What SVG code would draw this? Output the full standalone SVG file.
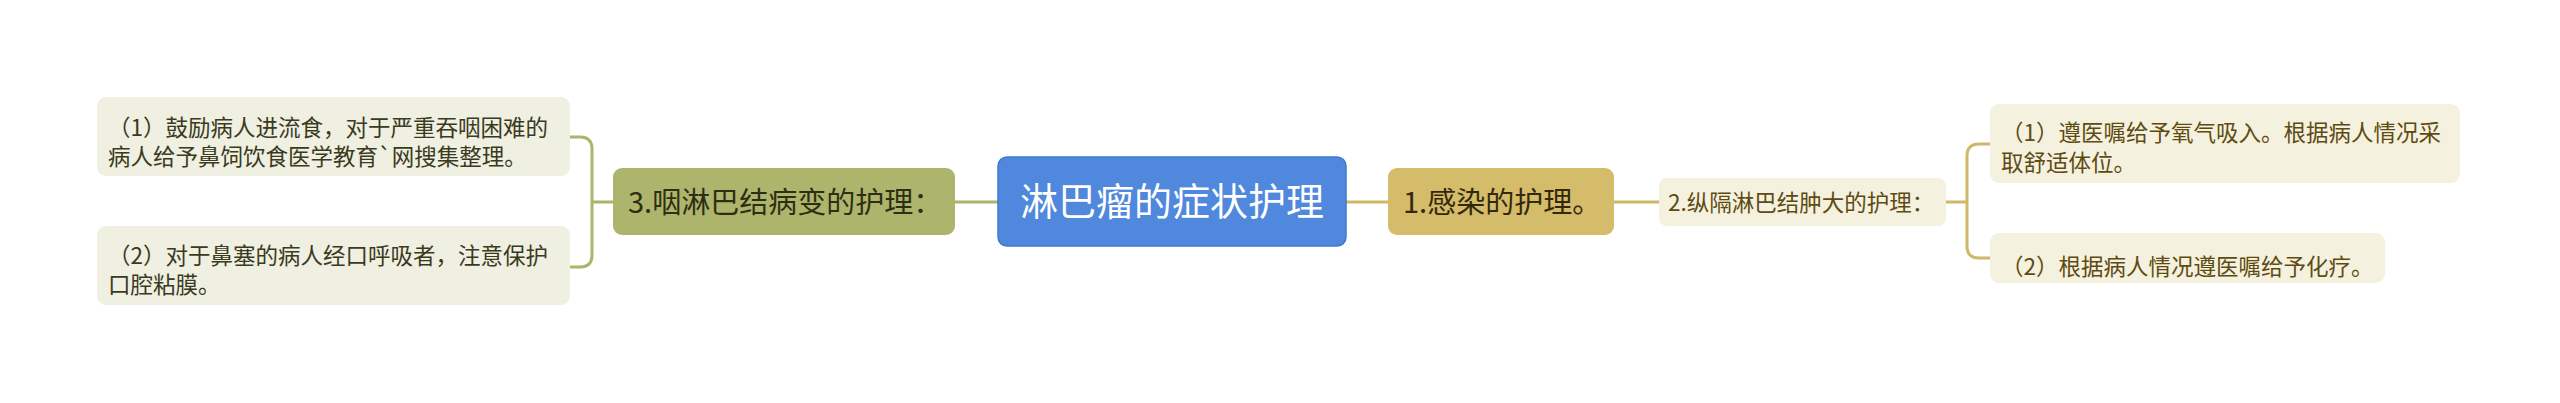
<svg xmlns="http://www.w3.org/2000/svg" width="2560" height="403" viewBox="0 0 2560 403">
<style>
text{font-family:"Noto Sans CJK SC","Noto Sans",sans-serif;}
.lc{fill:none;stroke:#aab46a;stroke-width:3;}
.rc{fill:none;stroke:#cfb868;stroke-width:3;}
.leafL rect{fill:#efefe2;}
.leafL text{fill:#3a3a1c;font-size:22.5px;}
.leafR rect{fill:#f5f1df;}
.leafR text{fill:#5e4b12;font-size:22.5px;}
.main text{font-size:29px;}
</style>
<rect width="2560" height="403" fill="#ffffff"/>
<g id="connectors">
<path class="lc" d="M955,202 L998,202"/>
<path class="lc" d="M613,202 L592,202"/>
<path class="lc" d="M570,137 L580,137 Q592,137 592,149 L592,255 Q592,267 580,267 L570,267"/>
<path class="rc" d="M1346,202 L1388,202"/>
<path class="rc" d="M1614,202 L1659,202"/>
<path class="rc" d="M1946,202 L1967,202"/>
<path class="rc" d="M1990,144 L1979,144 Q1967,144 1967,156 L1967,246 Q1967,258 1979,258 L1990,258"/>
</g>
<g id="center">
<rect x="998" y="157" width="348" height="89" rx="9" fill="#4f88dc" stroke="#4079cc" stroke-width="1.5"/>
<text x="1172" y="215" text-anchor="middle" font-size="38" fill="#ffffff">淋巴瘤的症状护理</text>
</g>
<g id="n3" class="main">
<rect x="613" y="168" width="342" height="67" rx="9" fill="#adb56c"/>
<text x="628" y="213" fill="#2e2e12">3.咽淋巴结病变的护理：</text>
</g>
<g id="n3-1" class="leafL">
<rect x="97" y="97" width="473" height="79" rx="9"/>
<text x="108" y="136">（1）鼓励病人进流食，对于严重吞咽困难的</text>
<text x="108" y="165">病人给予鼻饲饮食医学教育`网搜集整理。</text>
</g>
<g id="n3-2" class="leafL">
<rect x="97" y="226" width="473" height="79" rx="9"/>
<text x="108" y="264">（2）对于鼻塞的病人经口呼吸者，注意保护</text>
<text x="108" y="293">口腔粘膜。</text>
</g>
<g id="n1" class="main">
<rect x="1388" y="168" width="226" height="67" rx="9" fill="#d4bc6b"/>
<text x="1403" y="213" fill="#33290a">1.感染的护理。</text>
</g>
<g id="n2" class="leafR">
<rect x="1659" y="178" width="287" height="48" rx="8"/>
<text x="1668" y="211">2.纵隔淋巴结肿大的护理：</text>
</g>
<g id="n2-1" class="leafR">
<rect x="1990" y="104" width="470" height="79" rx="9"/>
<text x="2001" y="141">（1）遵医嘱给予氧气吸入。根据病人情况采</text>
<text x="2001" y="171">取舒适体位。</text>
</g>
<g id="n2-2" class="leafR">
<rect x="1990" y="233" width="395" height="50" rx="9"/>
<text x="2001" y="275">（2）根据病人情况遵医嘱给予化疗。</text>
</g>
</svg>
